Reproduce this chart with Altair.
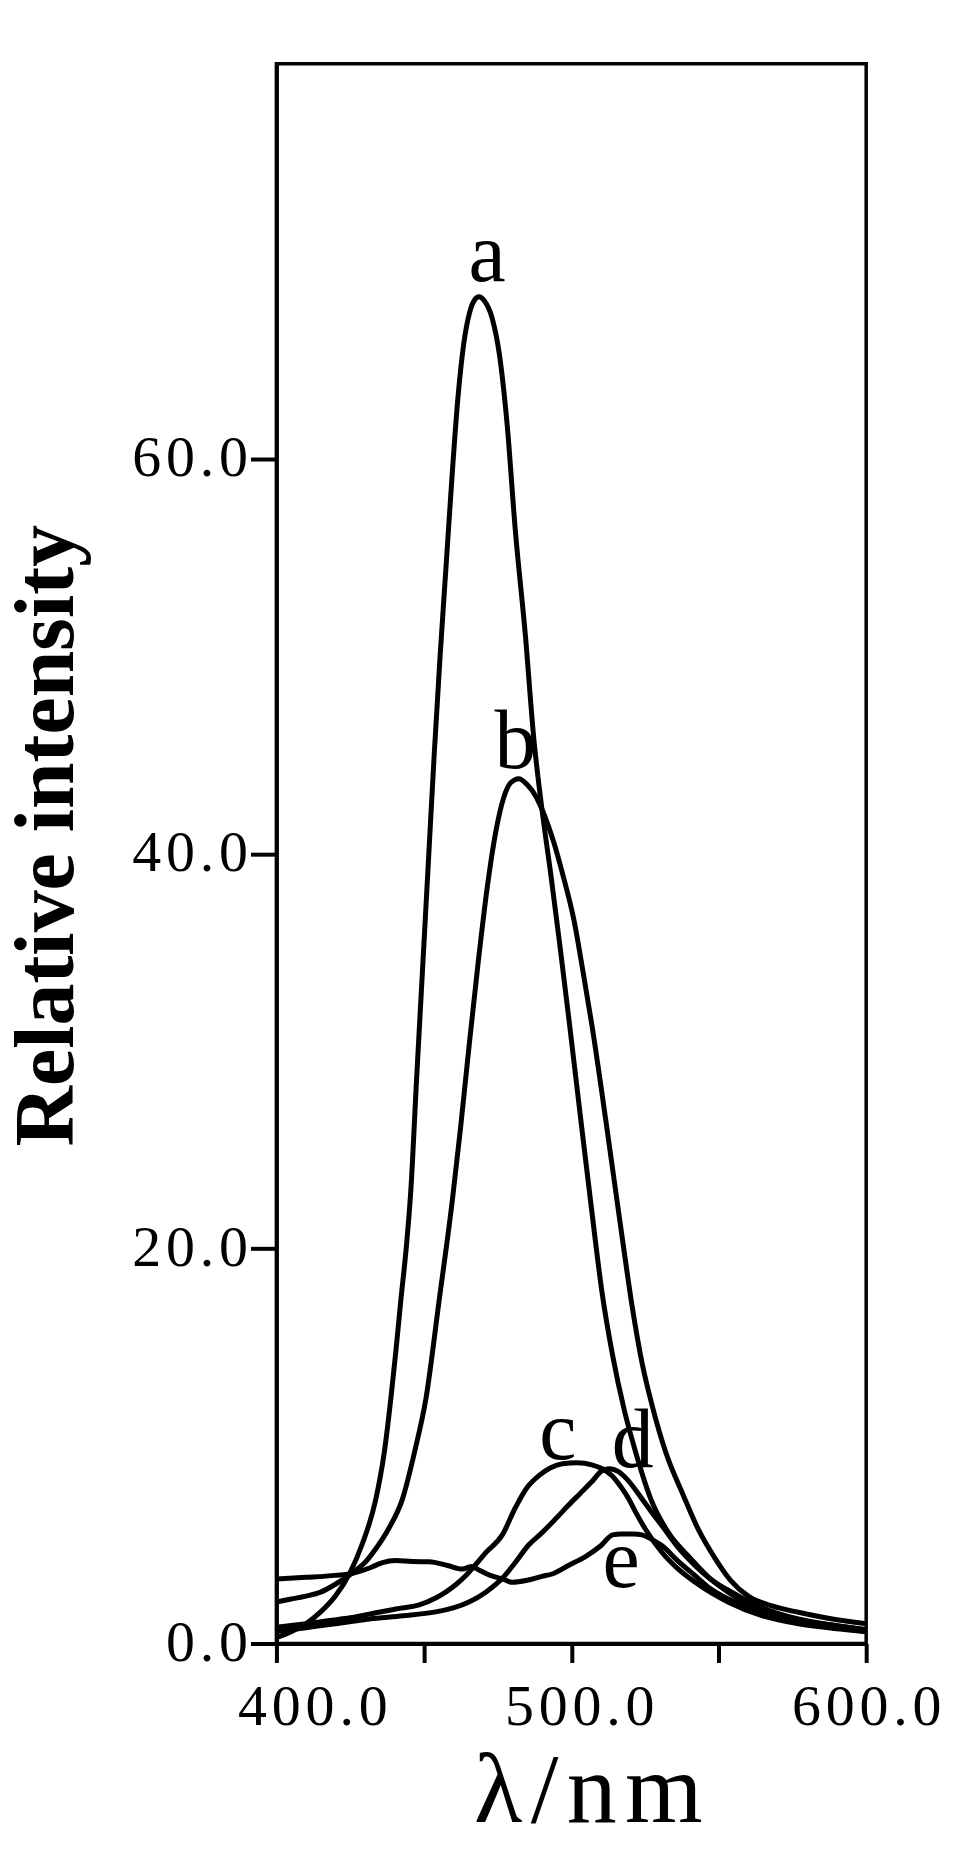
import altair as alt
import pandas as pd

# ---- data ----
a_x = [400, 405, 410, 415, 420, 425, 429, 433.7, 436.5, 438.8, 440.5, 442.2, 444, 445.6, 447.5, 449.5,
       451.5, 453.5, 455.5, 457.5, 459.5, 461.5, 463.5, 465.5, 467, 468.7, 470.5, 473.2, 475.6, 478.2,
       481, 484.4, 487.3, 490, 493, 496, 499.2, 503, 506.7, 510.4, 514, 518, 522, 527, 533, 540.5, 547,
       554.4, 565, 577, 590, 600]
a_y = [0.3, 0.6, 1.0, 1.6, 2.4, 3.6, 5.0, 7.3, 9.6, 12.4, 14.8, 17.4, 20.0, 23.0, 28.5, 34.0,
       39.5, 45.0, 50.0, 54.5, 59.0, 63.0, 65.8, 67.4, 68.0, 68.2, 68.0, 67.1, 65.3, 61.8,
       56.4, 51.1, 45.8, 42.3, 39.0, 35.5, 31.6, 26.8, 22.2, 17.8, 14.6, 11.8, 9.6, 7.3, 5.6, 4.3, 3.3,
       2.6, 1.8, 1.24, 0.9, 0.7]

b_x = [400, 405, 410, 415, 420, 426, 430, 433.7, 438, 442.7, 447, 450.7, 455.2, 459.7, 462.5, 465.5,
       468.5, 471.5, 474.5, 477, 479.5, 482.2, 485, 488, 491, 494, 497, 500.8, 504, 507, 511.6, 514.5,
       517.5, 520.5, 524, 527.5, 532, 538, 543, 548.8, 554, 560, 568, 577, 590, 600]
b_y = [2.1, 2.25, 2.4, 2.6, 3.0, 3.6, 4.1, 4.8, 5.8, 7.3, 9.8, 12.4, 17.4, 22.5, 26.2, 30.5,
       34.6, 38.3, 41.2, 42.8, 43.6, 43.8, 43.5, 42.9, 41.9, 40.6, 39.0, 36.7, 34.0, 31.3, 26.6, 23.5,
       20.3, 17.2, 14.2, 12.0, 9.7, 7.5, 5.8, 4.3, 3.2, 2.4, 1.9, 1.58, 1.2, 1.0]

c_x = [400, 410, 417.9, 425, 431.5, 440.5, 448.4, 454, 457.4, 461, 464, 467, 471, 476.6, 481.1, 485,
       489, 493, 497, 502, 507, 510.5, 513.8, 516.5, 519.5, 522, 525.1, 530.7, 536, 542, 553.3, 564.6,
       577, 590, 600]
c_y = [0.82, 1.0, 1.16, 1.3, 1.49, 1.75, 1.95, 2.3, 2.6, 3.0, 3.4, 3.9, 4.6, 5.5, 6.9, 7.9,
       8.5, 8.9, 9.1, 9.15, 9.05, 8.85, 8.5, 8.0, 7.32, 6.6, 5.8, 4.62, 3.8, 3.1, 2.09, 1.41,
       1.0, 0.75, 0.6]

d_x = [400, 410, 420, 431.5, 443, 454, 460, 465.3, 471, 476.6, 481, 485.6, 490, 494.6, 499, 503, 507,
       510.4, 513, 516, 519, 524, 527, 530.7, 536, 542, 553.3, 564.6, 577, 590, 600]
d_y = [0.6, 0.8, 1.0, 1.24, 1.4, 1.6, 1.8, 2.1, 2.6, 3.3, 4.1, 5.0, 5.6, 6.3, 7.0, 7.6, 8.2,
       8.75, 8.85, 8.7, 8.3, 7.32, 6.7, 5.97, 4.9, 3.94, 2.59, 1.66, 1.2, 0.9, 0.7]

e_x = [400, 410, 420, 425.8, 432, 436, 440.5, 446, 451.8, 458, 463.1, 466, 469, 472.5, 476.6, 480, 485,
       490, 493.5, 499, 504.8, 510, 514, 517, 521, 524, 527, 530.7, 536, 542, 547, 553.3, 564.6, 577,
       590, 600]
e_y = [3.27, 3.35, 3.45, 3.55, 3.85, 4.1, 4.2, 4.15, 4.14, 3.95, 3.77, 3.9, 3.7, 3.45, 3.27, 3.10, 3.2,
       3.4, 3.52, 3.95, 4.4, 4.95, 5.5, 5.55, 5.55, 5.5, 5.3, 4.96, 4.2, 3.43, 2.8, 2.25, 1.58, 1.1,
       0.8, 0.6]

label_text = ["a", "b", "c", "d", "e"]
label_x = [471.4, 481.1, 495.4, 520.8, 516.9]
label_y = [69.0, 44.35, 9.35, 8.94, 2.86]

x_ticks = [400, 450, 500, 550, 600]
y_ticks = [0, 20, 40, 60]

# ---- build tables ----
rows = []
for name, xs, ys in [("a", a_x, a_y), ("b", b_x, b_y), ("c", c_x, c_y), ("d", d_x, d_y), ("e", e_x, e_y)]:
    for xv, yv in zip(xs, ys):
        rows.append({"series": name, "wl": xv, "val": yv})
df = pd.DataFrame(rows)
lab = pd.DataFrame({"t": label_text, "wl": label_x, "val": label_y})

HS = "\u200a"
FONT = "Liberation Serif"

x_scale = alt.Scale(domain=[400, 600], nice=False, zero=False)
y_scale = alt.Scale(domain=[0, 80], nice=False)

x_axis = alt.Axis(
    values=x_ticks,
    labelExpr="datum.value % 100 == 0 ? join(split(format(datum.value, '.1f'), ''), '" + HS + "') : ''",
    labelFont=FONT, labelFontSize=58, labelColor="black",
    labelBaseline="alphabetic", labelPadding=62,
    labelOffset={"condition": [{"test": "datum.value == 400", "value": 36},
                               {"test": "datum.value == 500", "value": 8}], "value": 0},
    labelFlush=False, labelOverlap=False,
    tickSize=19, tickWidth=4, tickColor="black",
    domainColor="black", domainWidth=4, grid=False,
    title="λ" + HS + "/" + HS + "n" + HS + "m", titleFont=FONT, titleFontSize=100, titleFontWeight="normal",
    titleColor="black", titleX=312, titleY=178, titleBaseline="alphabetic", titleAlign="center",
)
y_axis = alt.Axis(
    values=y_ticks,
    labelExpr="join(split(format(datum.value, '.1f'), ''), '" + HS + "')",
    labelFont=FONT, labelFontSize=58, labelColor="black",
    labelBaseline="middle", labelAlign="right", labelPadding=3,
    labelFlush=False, labelOverlap=False,
    tickSize=26, tickWidth=4, tickColor="black",
    domainColor="black", domainWidth=4, grid=False,
    title="Relative intensity", titleFont=FONT, titleFontSize=84, titleFontWeight="bold",
    titleColor="black", titleAngle=270, titleX=-204, titleY=773, titleBaseline="alphabetic",
    titleAlign="center",
)

lines = alt.Chart(df).mark_line(color="black", strokeWidth=5, interpolate="monotone").encode(
    x=alt.X("wl:Q", scale=x_scale, axis=x_axis),
    y=alt.Y("val:Q", scale=y_scale, axis=y_axis),
    detail="series:N",
)

texts = alt.Chart(lab).mark_text(font=FONT, fontSize=84, color="black", baseline="alphabetic",
                                 align="center").encode(
    x=alt.X("wl:Q", scale=x_scale),
    y=alt.Y("val:Q", scale=y_scale),
    text="t:N",
)

chart = (lines + texts).properties(
    width=591, height=1583,
    autosize=alt.AutoSizeParams(type="none"),
    padding={"left": 269, "top": 54, "right": 85, "bottom": 215},
    background="white",
).configure_view(stroke="black", strokeWidth=3.5)

chart.save("out.html", embed_options={"renderer": "svg", "actions": False})
